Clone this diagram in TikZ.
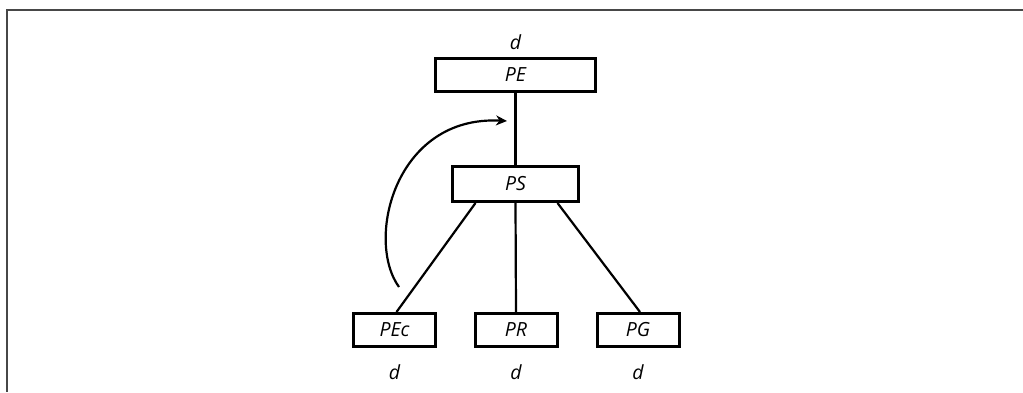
\documentclass[tikz,border=0pt]{standalone}
\usepackage{fontspec}
\setmainfont{Open Sans}
\usetikzlibrary{arrows.meta}
\tikzset{
  box/.style={draw, line width=3pt, rectangle, inner sep=0pt, minimum height=33pt, font=\fontsize{19.5}{22}\selectfont\itshape},
  lbl/.style={inner sep=0pt, font=\fontsize{19.5}{22}\selectfont\itshape},
  conn/.style={line width=2.2pt},
  frame/.style={line width=2pt, draw=black!72}
}
\begin{document}
\begin{tikzpicture}[x=1pt,y=-1pt]
\useasboundingbox (0,0) rectangle (1023,392);
\draw[frame] (1023,10) -- (7,10) -- (7,392);
\node[box, minimum width=160pt] (PE) at (515.5,75) {PE};
\node[box, minimum width=126pt, minimum height=35pt] (PS) at (515.5,184) {PS};
\node[box, minimum width=82pt] (PEc) at (394.5,330) {PEc};
\node[box, minimum width=82pt] (PR) at (516,330) {PR};
\node[box, minimum width=82pt] (PG) at (638,330) {PG};
\node[lbl] (dPE) at (515.5,42) {d};
\node[lbl] (dPEc) at (394.5,372) {d};
\node[lbl] (dPR) at (516,372) {d};
\node[lbl] (dPG) at (638,372) {d};
\draw[conn] (PE.south) -- (PS.north);
\draw[conn] ([xshift=-40pt]PS.south) -- ([xshift=2pt]PEc.north);
\draw[conn] (PS.south) -- (PR.north);
\draw[conn] ([xshift=42pt]PS.south) -- ([xshift=2pt]PG.north);
\coordinate (arrS) at (399,287);
\coordinate (arrE) at (507,121);
\draw[conn, -{Stealth[length=11pt,width=10pt]}] (arrS) .. controls (365,240) and (395,115) .. (arrE);
\end{tikzpicture}
\end{document}
